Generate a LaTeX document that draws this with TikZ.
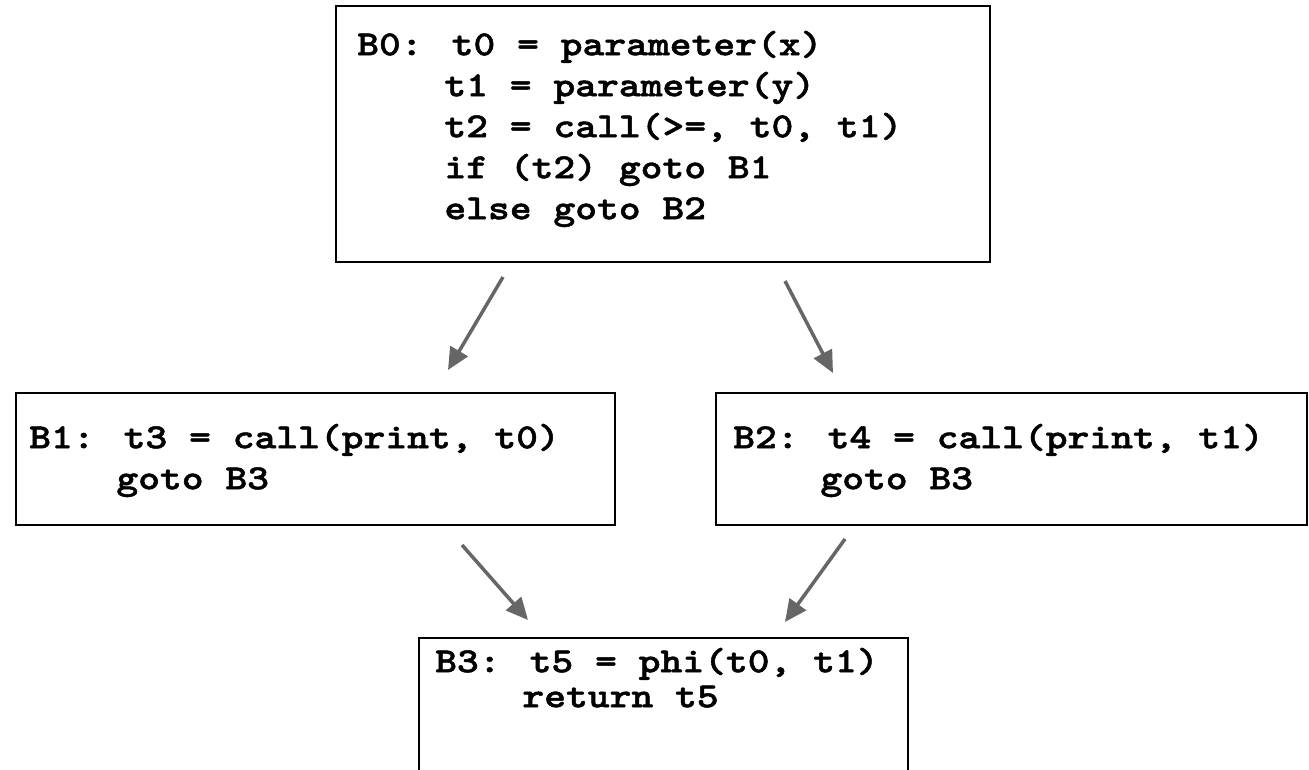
\documentclass[tikz,border=0pt]{standalone}
\usepackage{fontspec}
\newfontfamily\codefont{lmmonolt10-bold}[Extension=.otf, FakeStretch=1.18, FakeBold=1.4]
\usetikzlibrary{arrows.meta,calc}
\definecolor{arrowgray}{HTML}{666666}
\newcommand{\codeindent}{\hphantom{B0:\ }}
\newcommand{\firstline}{\rule{0pt}{32pt}}
\tikzset{
  block/.style={draw=black, line width=2pt, inner sep=0pt, anchor=north west},
  code/.style={font=\codefont\fontsize{35.2}{41}\selectfont,
               align=left, inner sep=0pt, anchor=north west},
  flow/.style={draw=arrowgray, line width=3.5pt,
               -{Triangle[length=22pt,width=20pt]}}
}
\begin{document}
\begin{tikzpicture}[x=1pt,y=-1pt]
\useasboundingbox (0,0) rectangle (1309,770);
\clip (0,0) rectangle (1309,770);

% basic blocks
\node[block, minimum width=654pt, minimum height=256pt] (b0) at (335,5) {};
\node[block, minimum width=599pt, minimum height=132pt] (b1) at (15,392) {};
\node[block, minimum width=591pt, minimum height=132pt] (b2) at (715,392) {};
\node[block, minimum width=489pt, minimum height=220pt] (b3) at (418,637) {};

% block contents
\node[code] (c0) at ($(b0.north west)+(22,18)$) {\firstline B0: t0 = parameter(x)\\
  \codeindent t1 = parameter(y)\\
  \codeindent t2 = call(>=, t0, t1)\\
  \codeindent if (t2) goto B1\\
  \codeindent else goto B2};
\node[code] (c1) at ($(b1.north west)+(14,24)$) {\firstline B1: t3 = call(print, t0)\\
  \codeindent goto B3};
\node[code] (c2) at ($(b2.north west)+(18,24)$) {\firstline B2: t4 = call(print, t1)\\
  \codeindent goto B3};
\node[code, font=\codefont\fontsize{35.2}{35}\selectfont] (c3) at ($(b3.north west)+(17,3)$) {\firstline B3: t5 = phi(t0, t1)\\
  \codeindent return t5};

% control-flow edges
\coordinate (e01s) at ($(b0.south west)+(168,14)$);
\coordinate (e01t) at ($(b1.north west)+(433,-22)$);
\coordinate (e02s) at ($(b0.south west)+(450,18)$);
\coordinate (e02t) at ($(b2.north west)+(118,-19)$);
\coordinate (e13s) at ($(b1.south west)+(447,19)$);
\coordinate (e13t) at ($(b3.north west)+(110,-17)$);
\coordinate (e23s) at ($(b2.south west)+(130,13)$);
\coordinate (e23t) at ($(b3.north west)+(367,-15)$);
\draw[flow] (e01s) -- (e01t);
\draw[flow] (e02s) -- (e02t);
\draw[flow] (e13s) -- (e13t);
\draw[flow] (e23s) -- (e23t);
\end{tikzpicture}
\end{document}
